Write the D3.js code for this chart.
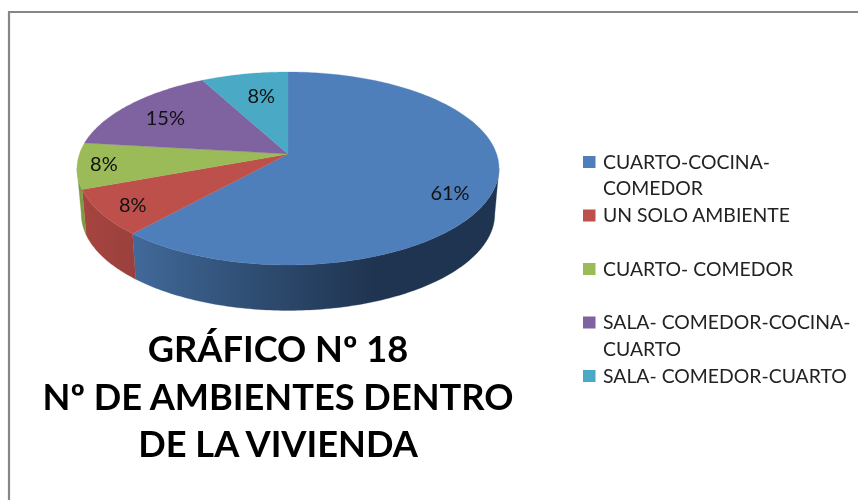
<!DOCTYPE html>
<html><head><meta charset="utf-8">
<script src="https://cdnjs.cloudflare.com/ajax/libs/d3/7.8.5/d3.min.js"></script>
<style>html,body{margin:0;padding:0;background:#fff}svg{display:block;filter:blur(0.45px)}text{font-family:Lato,"Open Sans",sans-serif}</style>
</head><body><svg id="c" width="858" height="500"></svg>
<script>
const categories = ["CUARTO-COCINA-COMEDOR","UN SOLO AMBIENTE","CUARTO- COMEDOR","SALA- COMEDOR-COCINA-CUARTO","SALA- COMEDOR-CUARTO"];
const legendLines = [["CUARTO-COCINA-","COMEDOR"],["UN SOLO AMBIENTE"],["CUARTO- COMEDOR"],["SALA- COMEDOR-COCINA-","CUARTO"],["SALA- COMEDOR-CUARTO"]];
const values = [61.5,7.7,7.7,15.4,7.7];
const valueLabels = ["61%","8%","8%","15%","8%"];
const colors = ["#4F7FBA","#BE504C","#9BBA58","#7F62A0","#4AAAC5"];
const titleLines = ["GRÁFICO Nº 18","Nº DE AMBIENTES DENTRO","DE LA VIVIENDA"];

const svg = d3.select("#c");
const cx=288, apexY=154, k=208.6, a=94.3, c=0.15, depth=45.5, shrink=0.98;
function proj(t,r=1){ const u=r*Math.sin(t), v=r*Math.cos(t), d=1+c*v; return [cx+k*u/d, apexY-a*v/d]; }
function low(t){ const p=proj(t); return [cx+(p[0]-cx)*shrink, p[1]+depth]; }
const arcs = d3.pie().sort(null).startAngle(0).endAngle(2*Math.PI)(values);
const line = d3.line();
function samples(s,e){ const n=Math.max(2,Math.ceil((e-s)*60)); return d3.range(n+1).map(i=>s+(e-s)*i/n); }

svg.append("path").attr("d","M858,12H9V500").attr("fill","none").attr("stroke","#868686").attr("stroke-width",2.2);

const defs=svg.append("defs");
function grad(id,x1,x2,stops){ const g=defs.append("linearGradient").attr("id",id).attr("gradientUnits","userSpaceOnUse").attr("x1",x1).attr("x2",x2).attr("y1",0).attr("y2",0);
 stops.forEach(s=>g.append("stop").attr("offset",s[0]).attr("stop-color",s[1])); return `url(#${id})`; }
const wallFills=[
 grad("w0",133,375,[[0,"#41699a"],[0.5,"#2f4d72"],[1,"#1f3450"]]),
 grad("w1",85,135,[[0,"#a6443f"],[1,"#9a403c"]]),
 "#7f9a44", "#5f4a7a", "#37808f"];
const turn=Math.acos(-c), frontS=turn, frontE=2*Math.PI-turn;
arcs.forEach((d,i)=>{
  const s=Math.max(d.startAngle,frontS), e=Math.min(d.endAngle,frontE);
  if(e<=s) return;
  const ts=samples(s,e);
  svg.append("path").attr("d",line(ts.map(t=>proj(t)).concat(ts.slice().reverse().map(low)))+"Z")
    .attr("fill",wallFills[i]).attr("stroke",wallFills[i]).attr("stroke-width",0.3);
});
arcs.forEach((d,i)=>{
  const pts=samples(d.startAngle,d.endAngle).map(t=>proj(t));
  svg.append("path").attr("d",line([[cx,apexY],...pts])+"Z").attr("fill",colors[i]).attr("stroke",colors[i]).attr("stroke-width",0.3);
});
const nudges=[[-1,11],[-8,5],[-16,1],[6,4],[9,8]];
arcs.forEach((d,i)=>{
  const p=proj((d.startAngle+d.endAngle)/2,0.8);
  svg.append("text").attr("x",p[0]+nudges[i][0]).attr("y",p[1]+nudges[i][1]+7).attr("text-anchor","middle")
   .attr("font-size",20).attr("fill","#111").text(valueLabels[i]);
});
titleLines.forEach((t,i)=>svg.append("text").attr("x",278).attr("y",362+i*47.5).attr("text-anchor","middle")
  .attr("font-size",36.2).attr("font-weight",700).attr("fill","#000").text(t));
const swY=d3.scalePoint().domain(categories).range([162,376]);
categories.forEach((cat,i)=>{
  const y=swY(cat);
  svg.append("rect").attr("x",583).attr("y",y-6).attr("width",12.5).attr("height",12).attr("fill",colors[i]);
  legendLines[i].forEach((l,j)=>svg.append("text").attr("x",603).attr("y",y+6.5+j*26.5).attr("font-size",19.4).attr("fill","#222").text(l));
});
</script></body></html>
